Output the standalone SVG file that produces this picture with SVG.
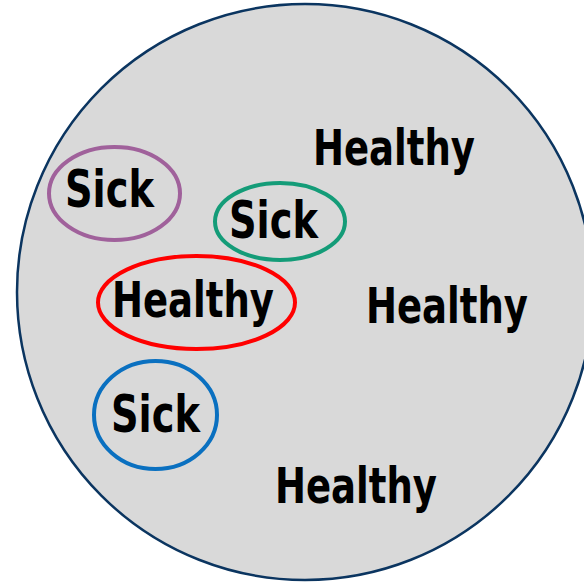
<svg xmlns="http://www.w3.org/2000/svg" width="584" height="584" viewBox="0 0 584 584">
<style>
.lbl{font-family:"DejaVu Sans","Liberation Sans",sans-serif;font-weight:bold;font-size:49px;fill:#000}
.sick{font-size:51px}
.ring{fill:none;stroke-width:4}
</style>
<rect width="584" height="584" fill="#fff"/>
<g id="population">
<circle cx="305" cy="292" r="288" fill="#d9d9d9" stroke="#0b3560" stroke-width="2.5"/>
</g>
<g id="connectors"></g>
<g id="sick-purple">
<ellipse class="ring" cx="114.5" cy="193.5" rx="65.5" ry="46.5" stroke="#a0619b"/>
<text class="lbl sick" x="65" y="207" textLength="89" lengthAdjust="spacingAndGlyphs">Sick</text>
</g>
<g id="sick-green">
<ellipse class="ring" cx="280" cy="221.5" rx="65" ry="38.5" stroke="#149c78"/>
<text class="lbl sick" x="229" y="238" textLength="89" lengthAdjust="spacingAndGlyphs">Sick</text>
</g>
<g id="healthy-red">
<ellipse class="ring" cx="196.5" cy="302.5" rx="98.5" ry="46.5" stroke="#ff0000"/>
<text class="lbl" x="112" y="317" textLength="162" lengthAdjust="spacingAndGlyphs">Healthy</text>
</g>
<g id="sick-blue">
<ellipse class="ring" cx="155.5" cy="415" rx="61.5" ry="54" stroke="#0a70c0"/>
<text class="lbl sick" x="111" y="432" textLength="89" lengthAdjust="spacingAndGlyphs">Sick</text>
</g>
<g id="healthy-top">
<text class="lbl" x="313" y="165" textLength="162" lengthAdjust="spacingAndGlyphs">Healthy</text>
</g>
<g id="healthy-mid">
<text class="lbl" x="366" y="323" textLength="162" lengthAdjust="spacingAndGlyphs">Healthy</text>
</g>
<g id="healthy-bottom">
<text class="lbl" x="275" y="503" textLength="162" lengthAdjust="spacingAndGlyphs">Healthy</text>
</g>
</svg>
